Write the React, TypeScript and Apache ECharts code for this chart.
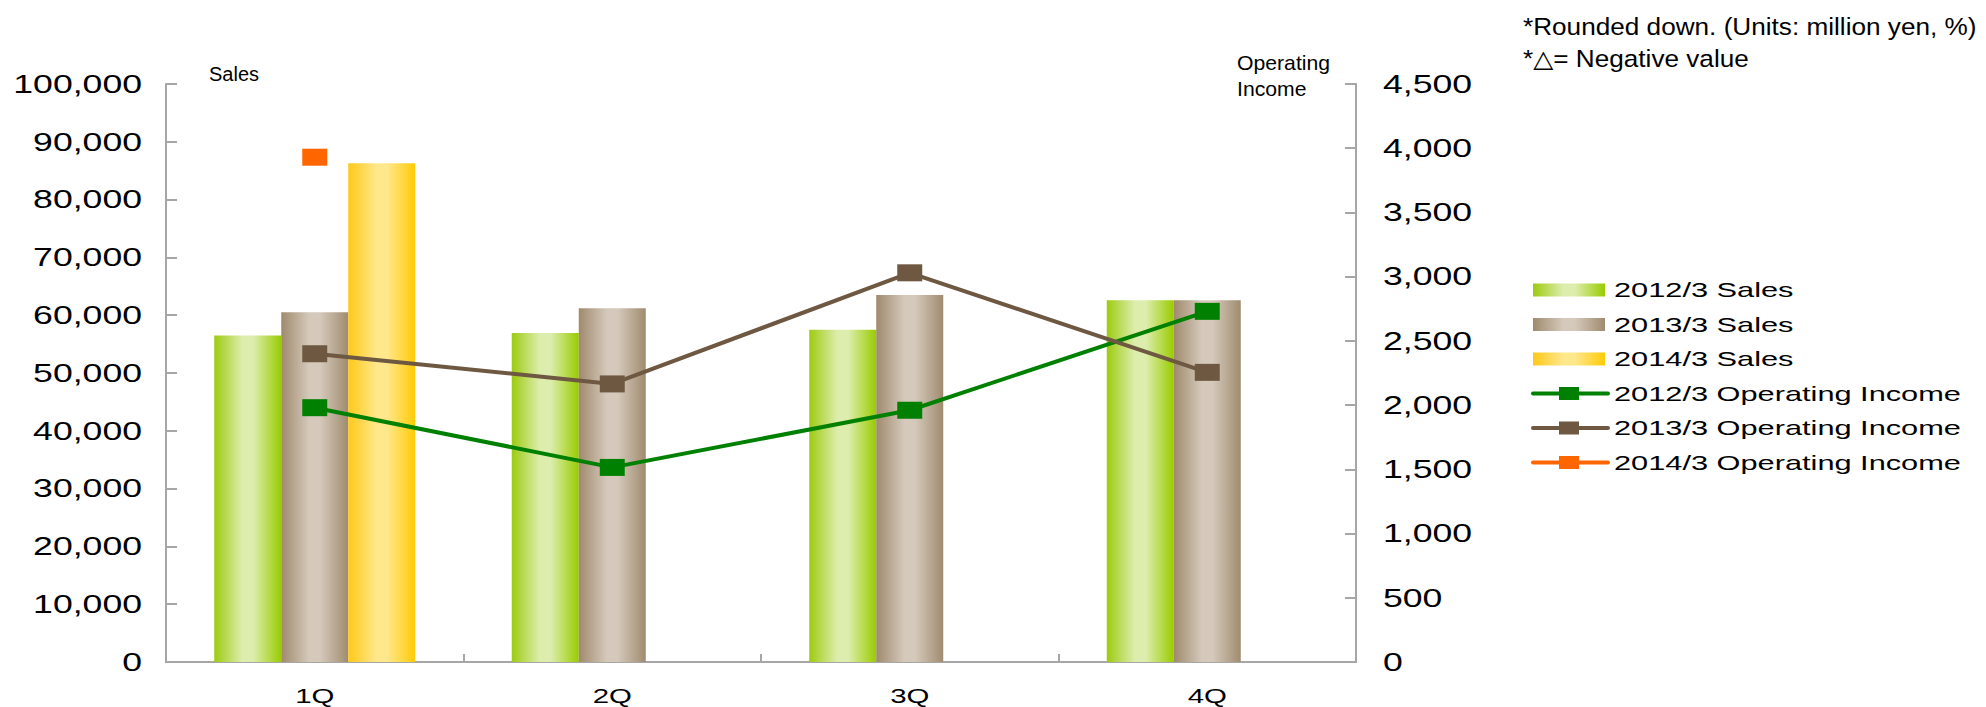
import { useEffect, useRef } from 'react';
import * as echarts from 'echarts';

// Quarterly sales (left axis) and operating income (right axis), million yen
const quarters = ['1Q', '2Q', '3Q', '4Q'];
const sales2012 = [56500, 56900, 57500, 62600];
const sales2013 = [60500, 61200, 63500, 62600];
const sales2014: (number | null)[] = [86300, null, null, null];
const income2012 = [1980, 1515, 1960, 2730];
const income2013 = [2400, 2165, 3030, 2255];
const income2014: (number | null)[] = [3930, null, null, null];

const salesTicks = [0, 10000, 20000, 30000, 40000, 50000, 60000, 70000, 80000, 90000, 100000];
const incomeTicks = [0, 500, 1000, 1500, 2000, 2500, 3000, 3500, 4000, 4500];

const barNames = ['2012/3 Sales', '2013/3 Sales', '2014/3 Sales'];
const lineNames = ['2012/3 Operating Income', '2013/3 Operating Income', '2014/3 Operating Income'];
const notes = ['*Rounded down. (Units: million yen, %)', '*△= Negative value'];

const fmt = (v: number) => v.toLocaleString('en-US');

const AXIS_GRAY = '#A6A6A6';
const FONT = '"Liberation Sans", Arial, "DejaVu Sans", sans-serif';

// cylinder-like horizontal shading for bars: [edge, highlight, right edge]
const barShades = [
  ['#9DCB10', '#DDEDAE', '#99CC00'],
  ['#9F8A6D', '#D5C9BB', '#A08B6F'],
  ['#FFC918', '#FFE78C', '#FFCB05'],
];
const lineColors = ['#008000', '#6E5841', '#FF6600'];

const shade = (c: string[]) =>
  new echarts.graphic.LinearGradient(0, 0, 1, 0, [
    { offset: 0, color: c[0] },
    { offset: 0.42, color: c[1] },
    { offset: 0.58, color: c[1] },
    { offset: 1, color: c[2] },
  ]);

export default function App() {
  const ref = useRef<HTMLDivElement>(null);

  useEffect(() => {
    if (!ref.current) return;
    const chart = echarts.init(ref.current, null, { renderer: 'svg' });

    const axisLine = { show: true, lineStyle: { color: AXIS_GRAY, width: 2 } };

    chart.setOption({
      animation: false,
      backgroundColor: '#ffffff',
      grid: { left: 166, right: 630, top: 84, bottom: 45, containLabel: false },
      xAxis: {
        type: 'category',
        data: quarters,
        axisLine,
        axisTick: { show: true, inside: true, length: 8, lineStyle: { color: AXIS_GRAY, width: 2 } },
        axisLabel: { show: false },
        splitLine: { show: false },
      },
      yAxis: [
        {
          type: 'value',
          position: 'left',
          min: 0,
          max: 100000,
          interval: 10000,
          axisLine,
          axisTick: { show: true, inside: true, length: 11, lineStyle: { color: AXIS_GRAY, width: 2 } },
          axisLabel: { show: false },
          splitLine: { show: false },
        },
        {
          type: 'value',
          position: 'right',
          min: 0,
          max: 4500,
          interval: 500,
          axisLine,
          axisTick: { show: true, inside: true, length: 11, lineStyle: { color: AXIS_GRAY, width: 2 } },
          axisLabel: { show: false },
          splitLine: { show: false },
        },
      ],
      series: [
        ...[sales2012, sales2013, sales2014].map((d, i) => ({
          name: barNames[i],
          type: 'bar',
          yAxisIndex: 0,
          data: d,
          barWidth: 67,
          barGap: '0%',
          itemStyle: { color: shade(barShades[i]) },
        })),
        ...[income2012, income2013, income2014].map((d, i) => ({
          name: lineNames[i],
          type: 'line',
          yAxisIndex: 1,
          data: d,
          symbol: 'rect',
          symbolSize: [25, 17],
          showAllSymbol: true,
          lineStyle: { color: lineColors[i], width: 4 },
          itemStyle: { color: lineColors[i] },
          z: 5,
        })),
      ],
    });

    // Tick labels, placed through the axes' own scales and drawn with a wide letterform
    const labels: any[] = [];
    salesTicks.forEach((v) => {
      const y = chart.convertToPixel({ yAxisIndex: 0 }, v) as number;
      labels.push({
        type: 'text', x: 142, y, scaleX: 1.37,
        style: { text: fmt(v), fill: '#000', fontSize: 26, fontFamily: FONT, align: 'right', verticalAlign: 'middle' },
      });
    });
    incomeTicks.forEach((v) => {
      const y = chart.convertToPixel({ yAxisIndex: 1 }, v) as number;
      labels.push({
        type: 'text', x: 1383, y, scaleX: 1.37,
        style: { text: fmt(v), fill: '#000', fontSize: 26, fontFamily: FONT, align: 'left', verticalAlign: 'middle' },
      });
    });
    quarters.forEach((q) => {
      const x = chart.convertToPixel({ xAxisIndex: 0 }, q) as number;
      labels.push({
        type: 'text', x, y: 706, scaleX: 1.4,
        style: { text: q, fill: '#000', fontSize: 21, fontFamily: FONT, align: 'center', verticalAlign: 'bottom' },
      });
    });

    // Legend
    const legendX = 1533;
    const rowY = (i: number) => 290 + i * 34.5;
    const legend: any[] = [];
    barNames.forEach((n, i) => {
      legend.push({
        type: 'rect',
        shape: { x: legendX, y: rowY(i) - 6.5, width: 72, height: 13 },
        style: { fill: shade(barShades[i]) },
      });
      legend.push({
        type: 'text', x: 1614, y: rowY(i), scaleX: 1.5,
        style: { text: n, fill: '#000', fontSize: 20.5, fontFamily: FONT, align: 'left', verticalAlign: 'middle' },
      });
    });
    lineNames.forEach((n, j) => {
      const i = j + 3;
      legend.push({
        type: 'line',
        shape: { x1: legendX, y1: rowY(i), x2: 1608, y2: rowY(i) },
        style: { stroke: lineColors[j], lineWidth: 4, lineCap: 'round' },
      });
      legend.push({
        type: 'rect',
        shape: { x: 1559, y: rowY(i) - 6.5, width: 20, height: 13 },
        style: { fill: lineColors[j] },
      });
      legend.push({
        type: 'text', x: 1614, y: rowY(i), scaleX: 1.5,
        style: { text: n, fill: '#000', fontSize: 20.5, fontFamily: FONT, align: 'left', verticalAlign: 'middle' },
      });
    });

    const titles: any[] = [
      {
        type: 'text', x: 209, y: 74,
        style: { text: 'Sales', fill: '#000', fontSize: 20, fontFamily: FONT, align: 'left', verticalAlign: 'middle' },
      },
      {
        type: 'text', x: 1237, y: 76, scaleX: 1.06,
        style: { text: 'Operating\nIncome', fill: '#000', fontSize: 20, lineHeight: 26, fontFamily: FONT, align: 'left', verticalAlign: 'middle' },
      },
      {
        type: 'text', x: 1523, y: 26, scaleX: 1.09,
        style: { text: notes[0], fill: '#000', fontSize: 24, fontFamily: FONT, align: 'left', verticalAlign: 'middle' },
      },
      {
        type: 'text', x: 1523, y: 58, scaleX: 1.09,
        style: { text: notes[1], fill: '#000', fontSize: 24, fontFamily: FONT, align: 'left', verticalAlign: 'middle' },
      },
    ];

    chart.setOption({ graphic: [...labels, ...legend, ...titles] });

    return () => chart.dispose();
  }, []);

  return (
    <div
      ref={ref}
      style={{ position: 'fixed', left: 0, top: 0, width: 1986, height: 707, background: '#fff' }}
    />
  );
}
